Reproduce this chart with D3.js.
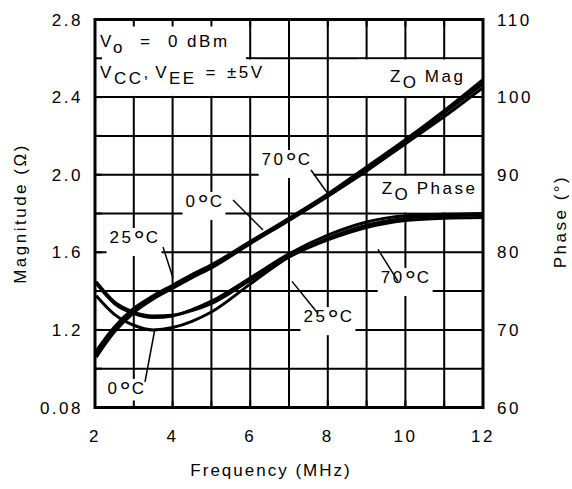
<!DOCTYPE html>
<html>
<head>
<meta charset="utf-8">
<script src="https://cdn.jsdelivr.net/npm/d3@7"></script>
<style>
  body { margin: 0; background: #fff; }
  text { font-family: "Liberation Sans Narrow", "Liberation Sans", Arial, sans-serif; font-size: 17px; letter-spacing: 2.5px; fill: #000; }
</style>
</head>
<body>
<div id="viz"></div>
<script>
// frequency (MHz)
var freq  = [2.03, 2.5, 3, 3.5, 4, 4.5, 5, 6, 7, 8, 9, 10, 11, 12];
// Zo magnitude (ohm)
var mag0  = [1.06, 1.19, 1.29, 1.36, 1.415, 1.47, 1.52, 1.645, 1.765, 1.89, 2.02, 2.16, 2.30, 2.45];
var mag25 = [1.075, 1.205, 1.30, 1.37, 1.425, 1.48, 1.53, 1.65, 1.77, 1.89, 2.03, 2.17, 2.32, 2.47];
var mag70 = [1.09, 1.215, 1.31, 1.375, 1.43, 1.485, 1.535, 1.655, 1.775, 1.90, 2.04, 2.18, 2.33, 2.49];
// Zo phase (deg)
var ph0   = [74.4, 72.0, 70.6, 70.0, 70.3, 71.1, 72.3, 75.9, 79.4, 81.8, 83.5, 84.4, 84.7, 84.8];
var ph25  = [76.0, 73.4, 72.1, 71.6, 71.8, 72.6, 73.7, 76.7, 79.8, 82.2, 83.9, 84.7, 84.9, 85.0];
var ph70  = [76.2, 73.6, 72.3, 71.8, 71.9, 72.5, 73.4, 76.4, 79.4, 81.6, 83.2, 84.1, 84.4, 84.5];

var xTicks      = [2, 4, 6, 8, 10, 12];
var magTicks    = [0.8, 1.2, 1.6, 2.0, 2.4, 2.8];
var magLabels   = ["0.08", "1.2", "1.6", "2.0", "2.4", "2.8"];
var phaseTicks  = [60, 70, 80, 90, 100, 110];

var width = 572, height = 489,
    pLeft = 95, pRight = 483, pTop = 19.5, pBottom = 407.5;

var x  = d3.scaleLinear().domain([2, 12]).range([pLeft, pRight]);
var y  = d3.scaleLinear().domain([0.8, 2.8]).range([pBottom, pTop]);
var yp = d3.scaleLinear().domain([60, 110]).range([pBottom, pTop]);

var svg = d3.select("#viz").append("svg")
    .attr("width", width)
    .attr("height", height);

// grid
var grid = svg.append("g");
grid.selectAll("line.v")
    .data(d3.range(3, 12))
    .enter().append("line")
    .attr("x1", d => x(d)).attr("x2", d => x(d))
    .attr("y1", pTop).attr("y2", pBottom)
    .style("stroke", "#000").style("stroke-width", 2);
grid.selectAll("line.h")
    .data(d3.range(1, 10).map(i => 0.8 + i * 0.2))
    .enter().append("line")
    .attr("x1", pLeft).attr("x2", pRight)
    .attr("y1", d => y(d)).attr("y2", d => y(d))
    .style("stroke", "#000").style("stroke-width", 2);

// white boxes behind the big labels
var boxes = svg.append("g");
function box(x0, x1, y0, y1) {
  boxes.append("rect")
    .attr("x", x(x0) + 1.2).attr("width", x(x1) - x(x0) - 2.4)
    .attr("y", y(y0) + 1.2).attr("height", y(y1) - y(y0) - 2.4)
    .style("fill", "#fff");
}
box(2, 5.92, 2.8, 2.4);
box(5.8, 6.25, 2.6, 2.4);
box(8.75, 12, 2.6, 2.4);
box(9.1, 12, 2.0, 1.8);

// curves
var magLine = d3.line()
    .x((d, i) => x(freq[i]))
    .y(d => y(d))
    .curve(d3.curveMonotoneX);
var phLine = d3.line()
    .x((d, i) => x(freq[i]))
    .y(d => yp(d))
    .curve(d3.curveMonotoneX);

svg.append("g").selectAll("path")
    .data([mag0, mag25, mag70])
    .enter().append("path")
    .attr("d", magLine)
    .style("fill", "none").style("stroke", "#000").style("stroke-width", 3.2);
svg.append("g").selectAll("path")
    .data([ph0, ph25, ph70])
    .enter().append("path")
    .attr("d", phLine)
    .style("fill", "none").style("stroke", "#000").style("stroke-width", 3);

// temperature labels with leaders (positions in MHz / ohm units)
var notes = [
  { t: "70", fx: 6.95, fy: 2.05,  l: [7.567, 2.024, 7.979, 1.908] },
  { t: "0",  fx: 4.835, fy: 1.834, l: [5.557, 1.870, 6.330, 1.715] },
  { t: "25", fx: 3.03, fy: 1.648, l: [3.753, 1.627, 4.010, 1.468] },
  { t: "0",  fx: 2.825, fy: 0.87, l: [3.289, 0.932, 3.546, 1.206] },
  { t: "25", fx: 8.03, fy: 1.24,  l: [7.747, 1.285, 7.077, 1.450] },
  { t: "70", fx: 10.02, fy: 1.442, l: [9.809, 1.450, 9.294, 1.615] }
];
var ng = svg.append("g");
notes.forEach(function(n) {
  var g = ng.append("g");
  var bg = g.append("rect").style("fill", "#fff");
  var t = g.append("text")
      .attr("x", x(n.fx)).attr("y", y(n.fy))
      .attr("text-anchor", "middle");
  t.append("tspan").text(n.t);
  t.append("tspan").text("°").style("font-size", "28px").style("letter-spacing", "1px").attr("dy", 7);
  t.append("tspan").text("C").attr("dy", -7);
  var b = t.node().getBBox();
  bg.attr("x", b.x - 3).attr("y", b.y + 3).attr("width", b.width + 4).attr("height", b.height - 3);
  g.append("line")
    .attr("x1", x(n.l[0])).attr("y1", y(n.l[1]))
    .attr("x2", x(n.l[2])).attr("y2", y(n.l[3]))
    .style("stroke", "#000").style("stroke-width", 1.5);
});

// conditions box text
var c1 = svg.append("text").attr("x", x(2.13)).attr("y", y(2.658));
c1.append("tspan").text("V");
c1.append("tspan").text("o").attr("dy", 6);
c1.append("tspan").text("=").attr("x", x(3.16)).attr("dy", -6);
c1.append("tspan").text("0 dBm").attr("x", x(3.88));
var c2 = svg.append("text").attr("x", x(2.13)).attr("y", y(2.498));
c2.append("tspan").text("V");
c2.append("tspan").text("CC").attr("dy", 6);
c2.append("tspan").text(",").attr("dy", -6);
c2.append("tspan").text("V").attr("x", x(3.55));
c2.append("tspan").text("EE").attr("dy", 6);
c2.append("tspan").text("=").attr("x", x(4.85)).attr("dy", -6);
c2.append("tspan").text("±5V").attr("x", x(5.4));

var zm = svg.append("text").attr("x", x(9.6)).attr("y", y(2.48));
zm.append("tspan").text("Z");
zm.append("tspan").text("O").attr("dy", 6);
zm.append("tspan").text("Mag").attr("x", x(10.5)).attr("dy", -6);
var zp = svg.append("text").attr("x", x(9.39)).attr("y", y(1.902));
zp.append("tspan").text("Z");
zp.append("tspan").text("O").attr("dy", 6);
zp.append("tspan").text("Phase").attr("x", x(10.29)).attr("dy", -6);

// frame with inward ticks
var frame = svg.append("g");
frame.append("rect")
    .attr("x", pLeft).attr("y", pTop)
    .attr("width", pRight - pLeft).attr("height", pBottom - pTop)
    .style("fill", "none").style("stroke", "#000").style("stroke-width", 3);
frame.selectAll("line.tx")
    .data(d3.range(3, 12))
    .enter().append("line")
    .attr("x1", d => x(d)).attr("x2", d => x(d))
    .attr("y1", pTop).attr("y2", pTop + 7)
    .style("stroke", "#000").style("stroke-width", 2);
frame.selectAll("line.bx")
    .data(d3.range(3, 12))
    .enter().append("line")
    .attr("x1", d => x(d)).attr("x2", d => x(d))
    .attr("y1", pBottom).attr("y2", pBottom - 7)
    .style("stroke", "#000").style("stroke-width", 2);
frame.selectAll("line.ly")
    .data(d3.range(1, 10).map(i => 0.8 + i * 0.2))
    .enter().append("line")
    .attr("x1", pLeft).attr("x2", pLeft + 7)
    .attr("y1", d => y(d)).attr("y2", d => y(d))
    .style("stroke", "#000").style("stroke-width", 2);

// axis labels
svg.append("g").selectAll("text")
    .data(xTicks).enter().append("text")
    .attr("x", d => x(d)).attr("y", 442)
    .attr("text-anchor", "middle")
    .text(d => d);
svg.append("g").selectAll("text")
    .data(magTicks).enter().append("text")
    .attr("x", 83).attr("y", d => y(d) + 6)
    .attr("text-anchor", "end")
    .text((d, i) => magLabels[i]);
svg.append("g").selectAll("text")
    .data(phaseTicks).enter().append("text")
    .attr("x", 497).attr("y", d => yp(d) + 6)
    .text(d => d);

svg.append("text")
    .attr("x", (pLeft + pRight) / 2 - 18).attr("y", 476)
    .attr("text-anchor", "middle")
    .style("letter-spacing", "2px")
    .text("Frequency (MHz)");
svg.append("text")
    .attr("transform", "translate(26," + (pTop + pBottom) / 2 + ") rotate(-90)")
    .attr("text-anchor", "middle")
    .text("Magnitude (Ω)");
svg.append("text")
    .attr("transform", "translate(566," + ((pTop + pBottom) / 2 + 8) + ") rotate(-90)")
    .attr("text-anchor", "middle")
    .text("Phase (°)");
</script>
</body>
</html>
